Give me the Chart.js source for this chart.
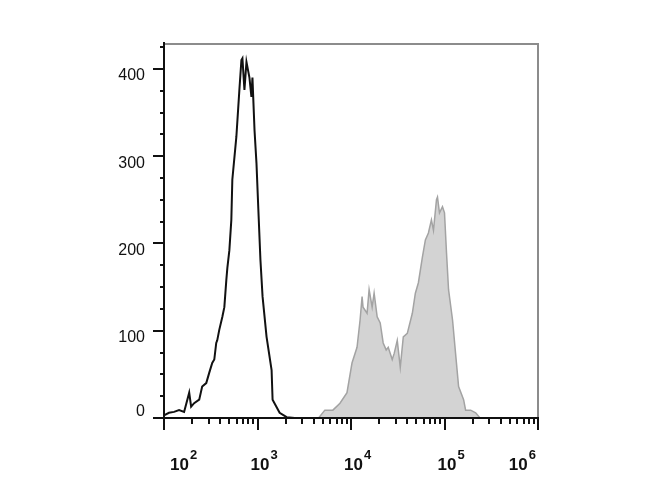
<!DOCTYPE html>
<html>
<head>
<meta charset="utf-8">
<script src="https://cdn.jsdelivr.net/npm/chart.js@4"></script>
<style>
  html, body { margin: 0; padding: 0; background: #fff; }
  canvas { display: block; }
</style>
</head>
<body>
<canvas id="histChart" width="670" height="500"></canvas>
<script>
// --- DATOS (intensidad de fluorescencia, eventos) ---
const controlX = [100, 113, 128, 145, 164, 186, 195, 210, 238, 256, 283, 305, 328, 345, 362,
    371, 390, 421, 442, 464, 476, 500, 525, 538, 594, 640, 673, 690, 725, 762,
    820, 861, 883, 929, 975, 1020, 1075, 1133, 1250, 1415, 1450, 1725, 2050, 2500, 1000000];
const controlY = [3, 6, 7, 9, 7, 29, 13, 17, 21, 36, 40, 52, 63, 67, 86,
    89, 101, 116, 127, 158, 172, 192, 227, 273, 322, 376, 410, 412, 376, 408,
    390, 368, 390, 330, 292, 240, 181, 139, 93, 55, 21, 6, 1, 0, 0];

const stainedX = [4500, 5250, 6400, 7620, 9060, 10250, 11600, 12500, 13140, 13450,
    14860, 15620, 16830, 17670, 19050, 20530, 22090, 23790, 25010, 27600,
    28980, 31240, 33650, 36250, 40000, 45290, 48790, 52570, 57970, 62450,
    67280, 72480, 76200, 82080, 84130, 88380, 95140, 100000, 105100, 110500,
    122000, 131300, 141500, 160100, 168200, 190500, 215400, 240000];
const stainedY = [0, 9, 9, 17, 29, 63, 81, 112, 139, 127,
    120, 147, 127, 143, 116, 109, 86, 78, 81, 67,
    74, 89, 58, 93, 97, 120, 143, 155, 184, 204,
    212, 227, 215, 250, 253, 235, 242, 235, 189, 147,
    112, 74, 36, 21, 9, 9, 6, 0];

// ticks
const yMajor = [0, 100, 200, 300, 400];
const yMinorStep = 25;
const xPowers = [2, 3, 4, 5, 6];

const toPoints = (xs, ys) => xs.map((x, i) => ({ x: x, y: ys[i] }));

// --- EJES DIBUJADOS A MANO (estilo FlowJo) ---
const axesPlugin = {
    id: 'flowAxes',
    afterDraw(chart) {
        const ctx = chart.ctx;
        const area = chart.chartArea;
        const xs = chart.scales.x;
        const ys = chart.scales.y;
        ctx.save();

        // marco gris arriba y derecha
        ctx.strokeStyle = '#8c8c8c';
        ctx.lineWidth = 2;
        ctx.beginPath();
        ctx.moveTo(area.left, area.top);
        ctx.lineTo(area.right, area.top);
        ctx.lineTo(area.right, area.bottom);
        ctx.stroke();

        // ejes negros
        ctx.strokeStyle = '#111';
        ctx.beginPath();
        ctx.moveTo(area.left, area.top - 2);
        ctx.lineTo(area.left, area.bottom);
        ctx.lineTo(area.right + 1, area.bottom);
        ctx.stroke();

        // ticks eje Y
        ctx.lineWidth = 2;
        for (let v = 0; v <= ys.max; v += yMinorStep) {
            const py = Math.round(ys.getPixelForValue(v));
            const len = yMajor.includes(v) ? 11 : 4;
            ctx.beginPath();
            ctx.moveTo(area.left - len, py);
            ctx.lineTo(area.left, py);
            ctx.stroke();
        }

        // ticks eje X (log)
        for (let p = xPowers[0]; p <= xPowers[xPowers.length - 1]; p++) {
            for (let m = 1; m <= 9; m++) {
                const v = m * Math.pow(10, p);
                if (v > xs.max) break;
                const px = Math.round(xs.getPixelForValue(v));
                const len = m === 1 ? 12 : 6;
                ctx.beginPath();
                ctx.moveTo(px, area.bottom);
                ctx.lineTo(px, area.bottom + len);
                ctx.stroke();
            }
        }

        // etiquetas Y
        ctx.fillStyle = '#111';
        ctx.font = '16px "Liberation Sans", Arial, sans-serif';
        ctx.textAlign = 'right';
        ctx.textBaseline = 'middle';
        yMajor.forEach(v => {
            const py = ys.getPixelForValue(v);
            ctx.fillText(String(v), area.left - 19, v === 0 ? py - 6 : py + 7);
        });

        // etiquetas X con exponente
        ctx.textAlign = 'left';
        ctx.textBaseline = 'alphabetic';
        xPowers.forEach((p, i) => {
            const px = xs.getPixelForValue(Math.pow(10, p));
            ctx.font = 'bold 17px "Liberation Sans", Arial, sans-serif';
            const wBase = ctx.measureText('10').width;
            ctx.font = 'bold 13px "Liberation Sans", Arial, sans-serif';
            const wExp = ctx.measureText(String(p)).width;
            let left = px - 7;
            if (i === 0) left = px + 6;
            if (i === xPowers.length - 1) left = px - wBase - wExp - 3;
            ctx.font = 'bold 17px "Liberation Sans", Arial, sans-serif';
            ctx.fillText('10', left, 470);
            ctx.font = 'bold 13px "Liberation Sans", Arial, sans-serif';
            ctx.fillText(String(p), left + wBase + 1, 459);
        });

        ctx.restore();
    }
};

new Chart(document.getElementById('histChart'), {
    type: 'line',
    data: {
        datasets: [
            {
                label: 'Control',
                data: toPoints(controlX, controlY),
                borderColor: '#111',
                borderWidth: 2,
                pointRadius: 0,
                fill: false,
                tension: 0
            },
            {
                label: 'Stained',
                data: toPoints(stainedX, stainedY),
                borderColor: '#a3a3a3',
                backgroundColor: '#d3d3d3',
                borderWidth: 1.5,
                pointRadius: 0,
                fill: 'origin',
                tension: 0
            }
        ]
    },
    options: {
        responsive: false,
        animation: false,
        devicePixelRatio: 1,
        layout: { padding: { left: 164, top: 44, right: 132, bottom: 82 } },
        scales: {
            x: { type: 'logarithmic', min: 100, max: 1000000, display: false },
            y: { type: 'linear', min: 0, max: 428.5, display: false }
        },
        plugins: {
            legend: { display: false },
            tooltip: { enabled: false }
        }
    },
    plugins: [axesPlugin]
});
</script>
</body>
</html>
